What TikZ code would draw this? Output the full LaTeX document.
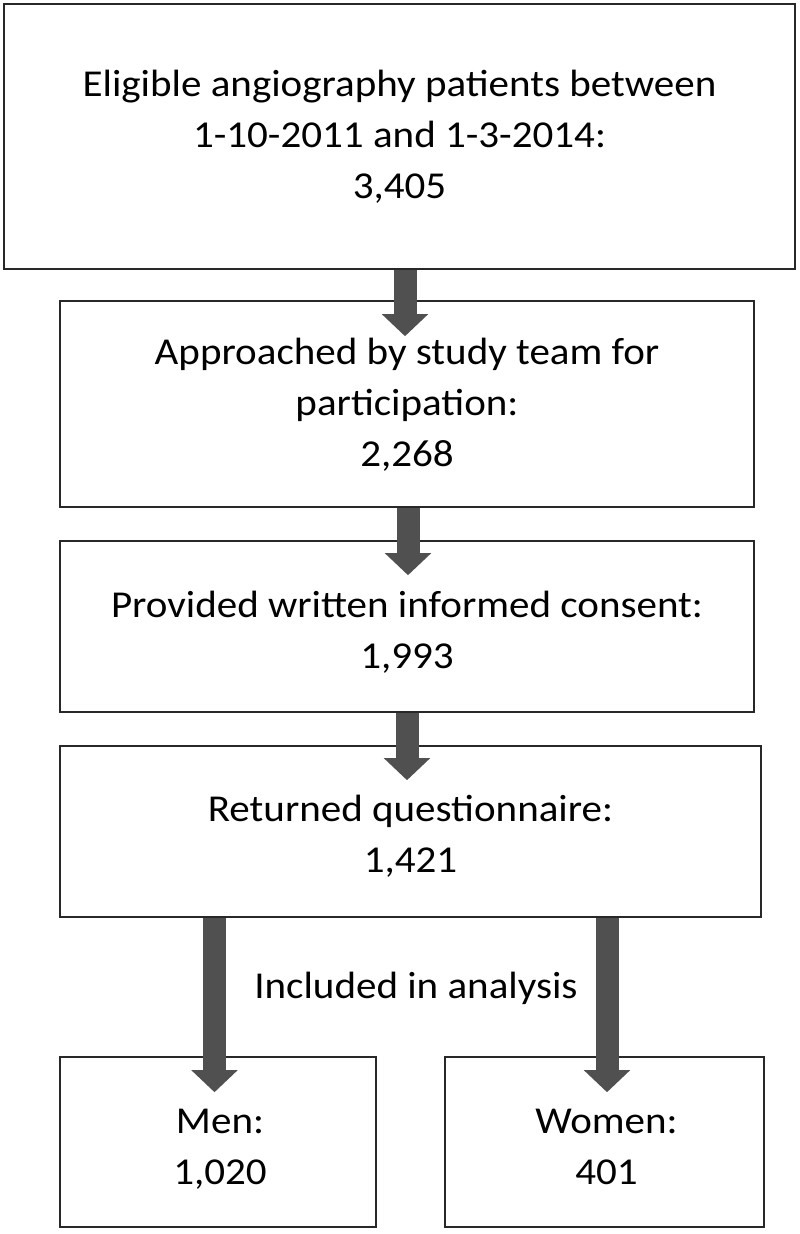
\documentclass[tikz,border=0pt]{standalone}
\usepackage{fontspec}
\setmainfont{Carlito}[FakeStretch=1.08]
\usetikzlibrary{arrows.meta}
\definecolor{arrowgray}{RGB}{80,80,80}
\definecolor{boxline}{RGB}{40,40,40}
\begin{document}
\begin{tikzpicture}[x=1pt,y=-1pt,
  box/.style={draw=boxline,line width=1.6pt,fill=white,inner sep=0pt},
  txt/.style={align=center,inner sep=0pt,font=\fontsize{38}{51}\selectfont},
  fatarrow/.style={draw=arrowgray,line width=23pt,
    -{Triangle[width=45pt,length=22pt,fill=arrowgray]}}]
\useasboundingbox[fill=white] (0,0) rectangle (800,1234);
\node[box,minimum width=791pt,minimum height=265pt] (b1) at (399.5,136.5) {};
\node[box,minimum width=694pt,minimum height=206pt] (b2) at (407,404) {};
\node[box,minimum width=694pt,minimum height=171pt] (b3) at (407,626.5) {};
\node[box,minimum width=701pt,minimum height=171pt] (b4) at (410.5,831.5) {};
\node[box,minimum width=316pt,minimum height=170pt] (men) at (218,1142) {};
\node[box,minimum width=319pt,minimum height=170pt] (women) at (604.5,1142) {};
\node[txt] (t1) at (b1.center)
  {Eligible angiography patients between\\1-10-2011 and 1-3-2014:\\3,405};
\node[txt] (t2) at ([yshift=-1pt]b2.center)
  {Approached by study team for\\participation:\\2,268};
\node[txt] (t3) at ([yshift=-6pt]b3.center)
  {Provided written informed consent:\\1,993};
\node[txt] (t4) at ([yshift=-5pt]b4.center)
  {Returned questionnaire:\\1,421};
\node[txt] (tm) at ([yshift=-7pt,xshift=2pt]men.center) {Men:\\1,020};
\node[txt] (tw) at ([yshift=-5pt,xshift=2pt]women.center) {Women:\\401};
\node[txt] (incl) at (416,988) {Included in analysis};
\coordinate (a1) at (405,0);
\coordinate (a2) at (408,0);
\coordinate (a3) at (407,0);
\coordinate (a4) at (214.5,0);
\coordinate (a5) at (607,0);
\draw[fatarrow] (b1.south -| a1) -- ([yshift=-36pt]b2.north -| a1);
\draw[fatarrow] (b2.south -| a2) -- ([yshift=-35pt]b3.north -| a2);
\draw[fatarrow] (b3.south -| a3) -- ([yshift=-35pt]b4.north -| a3);
\draw[fatarrow] (b4.south -| a4) -- ([yshift=-36pt]men.north -| a4);
\draw[fatarrow] (b4.south -| a5) -- ([yshift=-36pt]women.north -| a5);
\end{tikzpicture}
\end{document}
